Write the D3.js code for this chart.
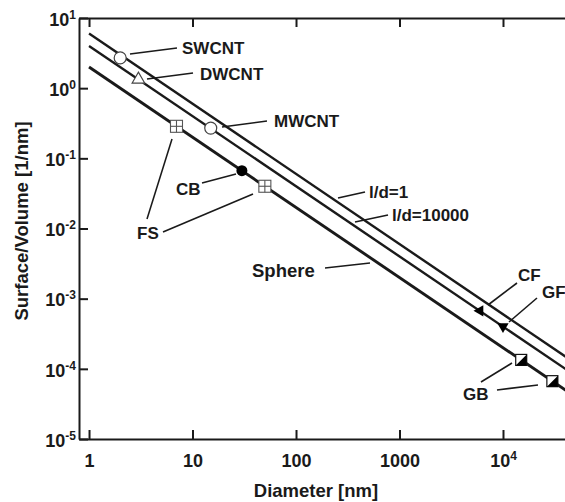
<!DOCTYPE html>
<html>
<head>
<meta charset="utf-8">
<script src="https://cdn.jsdelivr.net/npm/d3@7"></script>
<style>
  html, body { margin: 0; padding: 0; background: #fff; }
  svg { display: block; }
  text { font-family: "Liberation Sans", Arial, Helvetica, sans-serif; font-weight: bold; fill: #1a1a1a; }
</style>
</head>
<body>
<svg id="chart" width="565" height="502"></svg>
<script>
// ---------- data ----------
const xTicks = [1, 10, 100, 1000, 10000];
const xTickBase = ["1", "10", "100", "1000", "10"];
const xTickExp = ["", "", "", "", "4"];
const yTicks = [1e-5, 1e-4, 1e-3, 1e-2, 1e-1, 1, 10];
const yTickExp = ["-5", "-4", "-3", "-2", "-1", "0", "1"];

// Lines (endpoints; straight on log-log)
const lineNames = ["l/d=1", "l/d=10000", "Sphere"];
const lineDiameters = [1, 100000];
const lineLD1 = [6, 0.00006];
const lineLD10000 = [4, 0.00004];
const lineSphere = [2, 0.00002];

// Material points
const pointNames = ["SWCNT", "DWCNT", "MWCNT", "FS", "FS", "CB", "CF", "GF", "GB", "GB"];
const pointDiameter = [2, 3, 15, 7, 50, 30, 6000, 10000, 15000, 30000];
const pointValue = [2.7, 1.33, 0.27, 0.286, 0.04, 0.0667, 0.00067, 0.0004, 0.000134, 0.0000667];
const pointSymbol = ["openCircle", "openTriangle", "openCircle", "gridSquare", "gridSquare", "filledCircle", "triLeft", "triDown", "halfSquare", "halfSquare"];

// Annotation labels
const annoText = ["SWCNT", "DWCNT", "MWCNT", "FS", "CB", "l/d=1", "l/d=10000", "Sphere", "CF", "GF", "GB"];

// ---------- layout ----------
const svg = d3.select("#chart");
const mLeft = 79, mTop = 18, mBottom = 439, mRight = 565.3;

const x = d3.scaleLog().domain([0.8, 40000]).range([mLeft, mRight]);
const y = d3.scaleLog().domain([1e-5, 10]).range([mBottom, mTop]);

const ink = "#1a1a1a";

// ---------- axes ----------
const gx = svg.append("g").attr("transform", `translate(0,${mBottom})`)
  .call(d3.axisBottom(x).tickValues(xTicks).tickSize(-9).tickSizeOuter(0).tickPadding(15).tickFormat(""));
gx.selectAll(".tick text").each(function(d, i) {
  const t = d3.select(this).attr("font-size", 18).attr("fill", ink);
  t.append("tspan").text(xTickBase[i]);
  if (xTickExp[i]) t.append("tspan").attr("font-size", 12).attr("dy", -7).text(xTickExp[i]);
});

const gt = svg.append("g").attr("transform", `translate(0,${mTop})`)
  .call(d3.axisTop(x).tickValues(xTicks).tickSize(-9).tickSizeOuter(0).tickFormat(""));

const gy = svg.append("g").attr("transform", `translate(${mLeft},0)`)
  .call(d3.axisLeft(y).tickValues(yTicks).tickSize(-9).tickSizeOuter(0).tickPadding(3).tickFormat(""));
gy.selectAll(".tick text").each(function(d, i) {
  const t = d3.select(this).attr("font-size", 18).attr("fill", ink).attr("dy", "0.4em");
  t.append("tspan").text("10");
  t.append("tspan").attr("font-size", 12).attr("dy", -7).text(yTickExp[i]);
});

[gx, gt, gy].forEach(g => {
  g.select(".domain").attr("stroke", ink).attr("stroke-width", 2);
  g.selectAll(".tick line").attr("stroke", ink).attr("stroke-width", 2);
});

// axis titles
svg.append("text").attr("x", 316).attr("y", 497).attr("text-anchor", "middle")
  .attr("font-size", 18.5).text("Diameter [nm]");
svg.append("text").attr("transform", "translate(28,221) rotate(-90)").attr("text-anchor", "middle")
  .attr("font-size", 18.5).text("Surface/Volume [1/nm]");

// ---------- lines ----------
svg.append("clipPath").attr("id", "plotclip").append("rect")
  .attr("x", mLeft).attr("y", mTop).attr("width", mRight - mLeft).attr("height", mBottom - mTop);

const line = d3.line().x(d => x(d[0])).y(d => y(d[1]));
const lineSeries = [lineLD1, lineLD10000, lineSphere];
const lineWidths = [2.4, 2.4, 2.9];
svg.append("g").attr("clip-path", "url(#plotclip)")
  .selectAll("path").data(lineSeries).join("path")
  .attr("d", v => line(lineDiameters.map((d, i) => [d, v[i]])))
  .attr("fill", "none").attr("stroke", ink).attr("stroke-width", (d, i) => lineWidths[i]);

// ---------- annotations (leader lines + labels) ----------
const annoPos = [
  {tx: 182, ty: 54, leaders: [[130, 54, 177, 48]]},
  {tx: 200, ty: 80, leaders: [[147, 79, 193, 73]]},
  {tx: 274, ty: 127, leaders: [[222, 127, 267, 121]]},
  {tx: 137, ty: 239, leaders: [[172, 139, 147, 219], [163, 232, 253, 194]]},
  {tx: 176, ty: 195, leaders: [[202, 183, 236, 174]]},
  {tx: 369, ty: 198, leaders: [[338, 198, 365, 192]]},
  {tx: 392, ty: 221, leaders: [[355, 222, 388, 215]]},
  {tx: 252, ty: 277, leaders: [[325, 268, 370, 263]]},
  {tx: 518, ty: 281, leaders: [[488, 305, 517, 283]]},
  {tx: 542, ty: 298, leaders: [[509, 322, 537, 298]]},
  {tx: 463, ty: 400, leaders: [[481, 382, 512, 363], [497, 390, 538, 385]]}
];
const ga = svg.append("g");
annoText.forEach((txt, i) => {
  const p = annoPos[i];
  p.leaders.forEach(l => {
    ga.append("line").attr("x1", l[0]).attr("y1", l[1]).attr("x2", l[2]).attr("y2", l[3])
      .attr("stroke", ink).attr("stroke-width", 1.6);
  });
  ga.append("text").attr("x", p.tx).attr("y", p.ty).attr("font-size", txt === "Sphere" ? 18.5 : 17).text(txt);
});

// ---------- markers ----------
const gm = svg.append("g");
pointNames.forEach((name, i) => {
  const cx = x(pointDiameter[i]), cy = y(pointValue[i]);
  const g = gm.append("g").attr("transform", `translate(${cx},${cy})`);
  const s = pointSymbol[i];
  if (s === "openCircle") {
    g.append("circle").attr("r", 6).attr("fill", "#fff").attr("stroke", "#444").attr("stroke-width", 1.2);
  } else if (s === "openTriangle") {
    g.append("path").attr("d", d3.symbol(d3.symbolTriangle, 70)()).attr("fill", "#fff")
      .attr("stroke", "#444").attr("stroke-width", 1.1);
  } else if (s === "filledCircle") {
    g.append("circle").attr("r", 5.5).attr("fill", "#000");
  } else if (s === "gridSquare") {
    const h = 6;
    g.append("rect").attr("x", -h).attr("y", -h).attr("width", 2 * h).attr("height", 2 * h)
      .attr("fill", "#fff").attr("stroke", "#555").attr("stroke-width", 1.1);
    g.append("line").attr("x1", -h).attr("x2", h).attr("y1", 0).attr("y2", 0).attr("stroke", "#555").attr("stroke-width", 1.1);
    g.append("line").attr("y1", -h).attr("y2", h).attr("x1", 0).attr("x2", 0).attr("stroke", "#555").attr("stroke-width", 1.1);
  } else if (s === "triLeft") {
    g.append("path").attr("d", d3.symbol(d3.symbolTriangle, 55)()).attr("transform", "rotate(-90)").attr("fill", "#000");
  } else if (s === "triDown") {
    g.append("path").attr("d", d3.symbol(d3.symbolTriangle, 55)()).attr("transform", "rotate(180)").attr("fill", "#000");
  } else if (s === "halfSquare") {
    const h = 5.5;
    g.append("rect").attr("x", -h).attr("y", -h).attr("width", 2 * h).attr("height", 2 * h)
      .attr("fill", "#fff").attr("stroke", "#111").attr("stroke-width", 1.2);
    g.append("path").attr("d", `M${h},${-h}L${h},${h}L${-h},${h}Z`).attr("fill", "#000");
  }
});
</script>
</body>
</html>
